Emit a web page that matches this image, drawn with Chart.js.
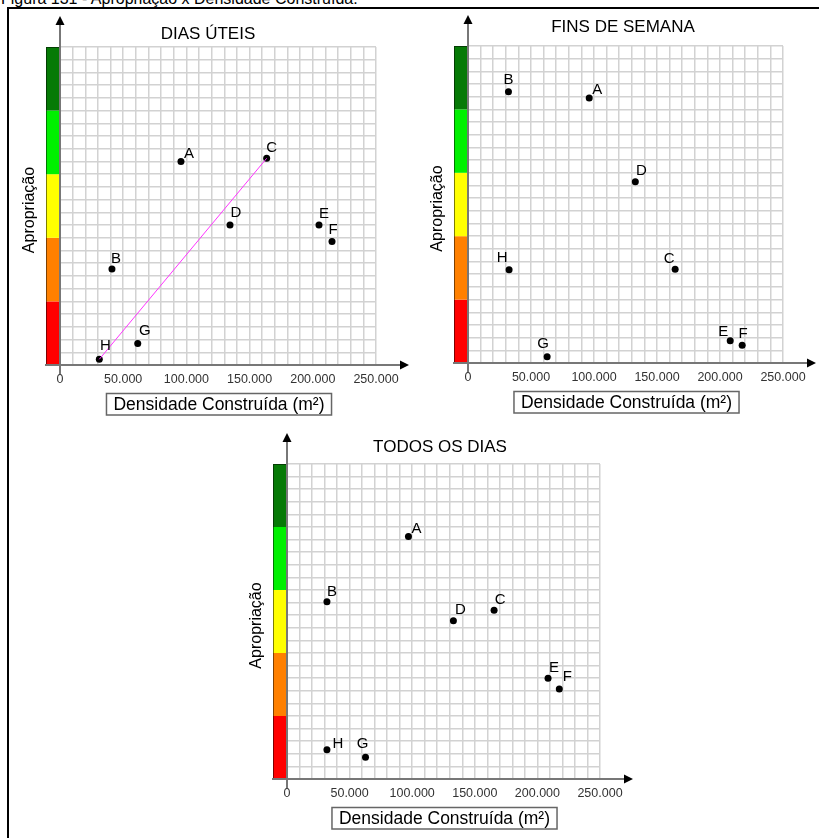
<!DOCTYPE html>
<html><head><meta charset="utf-8">
<script src="https://cdn.jsdelivr.net/npm/chart.js@4.4.1/dist/chart.umd.min.js"></script>
<style>
html,body{margin:0;padding:0;background:#fff;overflow:hidden;width:819px;height:838px;}
#wrap{position:relative;width:819px;height:838px;overflow:hidden;background:#fff;}
#caption{position:absolute;left:1px;top:-9px;font:16px/16px 'Liberation Sans',Arial,sans-serif;color:#000;white-space:nowrap;}
#frame{position:absolute;left:7px;top:7px;width:900px;height:900px;border-top:2px solid #000;border-left:2px solid #000;}
canvas{position:absolute;left:0;top:0;}
</style></head>
<body><div id="wrap">
<div id="caption">Figura 131 - Apropriação x Densidade Construída.</div>
<div id="frame"></div>
<canvas id="c1" width="819" height="838"></canvas>
<canvas id="c2" width="819" height="838"></canvas>
<canvas id="c3" width="819" height="838"></canvas>
</div>
<script>
// ---------- DATA ----------
const localities = ['A','B','C','D','E','F','G','H'];
const densityDiasUteis = [95700, 41100, 163500, 134500, 204900, 215200, 61500, 31100];
const appropDiasUteis  = [16.0, 7.55, 16.25, 11.0, 11.0, 9.7, 1.7, 0.45];
const densityFinsSemana = [96200, 32100, 164400, 132800, 208100, 217600, 62800, 32600];
const appropFinsSemana  = [20.9, 21.4, 7.4, 14.3, 1.75, 1.4, 0.5, 7.35];
const densityTodosDias = [97000, 31900, 165400, 132900, 208500, 217500, 62700, 31900];
const appropTodosDias  = [19.25, 14.06, 13.4, 12.55, 8.0, 7.15, 1.72, 2.33];
const trendLineDiasUteis = ['H','C'];
const xTickLabels = [0, 50000, 100000, 150000, 200000, 250000];
const appropBandEdges = [0, 5, 10, 15, 20, 25];
const chartTitles = ['DIAS ÚTEIS', 'FINS DE SEMANA', 'TODOS OS DIAS'];
const xAxisTitle = 'Densidade Construída (m²)';
const yAxisTitle = 'Apropriação';

// ---------- STYLE / LAYOUT ----------
const FONT = "'Liberation Sans', Arial, sans-serif";
const bandColors = ['#ff0000', '#ff8000', '#ffff00', '#00f000', '#067a06'];
const XSCALE_H = 30;
const layouts = [
  {area:[60,47,376,365], titleX:208, titleY:34,
   offsets:[[8,-8],[4,-10],[5,-10],[6,-12],[5,-11],[1,-12],[7,-13],[6,-13]]},
  {area:[468,46,783,363], titleX:623, titleY:27.5,
   offsets:[[8,-8],[0,-12],[-6,-10],[6,-11],[-7,-9],[1,-11],[-4,-13],[-7,-12]]},
  {area:[287,464,600,779], titleX:440, titleY:447,
   offsets:[[8,-8],[5,-10],[6,-10],[7,-11],[6,-10],[8,-12],[-3,-13],[11,-6]]}
];

function fmt(v){ return String(v).replace(/\B(?=(\d{3})+(?!\d))/g,'.'); }

const decor = {
  id:'decor',
  beforeDatasetsDraw(chart, args, o){
    const {ctx, chartArea:{left,top,right,bottom}, scales:{y}} = chart;
    ctx.save();
    for(let i=0;i<bandColors.length;i++){
      const y0 = y.getPixelForValue(appropBandEdges[i]);
      const y1 = y.getPixelForValue(appropBandEdges[i+1]);
      ctx.fillStyle = bandColors[i];
      ctx.fillRect(left-14, y1, 14, y0-y1);
    }
    ctx.strokeStyle = 'rgba(0,0,0,0.5)'; ctx.lineWidth = 1;
    ctx.strokeRect(left-14+0.5, top+0.5, 14, bottom-top);
    ctx.strokeStyle = '#777'; ctx.lineWidth = 2;
    ctx.beginPath(); ctx.moveTo(left-15, bottom); ctx.lineTo(right+26, bottom); ctx.stroke();
    ctx.beginPath(); ctx.moveTo(left, bottom+9); ctx.lineTo(left, top-24); ctx.stroke();
    ctx.fillStyle = '#000';
    ctx.beginPath(); ctx.moveTo(right+33, bottom); ctx.lineTo(right+24, bottom-4.5); ctx.lineTo(right+24, bottom+4.5); ctx.closePath(); ctx.fill();
    ctx.beginPath(); ctx.moveTo(left, top-31); ctx.lineTo(left-4.5, top-22); ctx.lineTo(left+4.5, top-22); ctx.closePath(); ctx.fill();
    ctx.restore();
  },
  afterDatasetsDraw(chart, args, o){
    const {ctx} = chart;
    const meta = chart.getDatasetMeta(o.pointDataset);
    ctx.save();
    ctx.fillStyle = '#000';
    ctx.font = '15px ' + FONT;
    ctx.textAlign = 'center'; ctx.textBaseline = 'middle';
    meta.data.forEach((pt, i) => {
      const off = o.offsets[i];
      ctx.fillText(localities[i], pt.x + off[0], pt.y + off[1]);
    });
    ctx.restore();
  },
  afterDraw(chart, args, o){
    const {ctx, chartArea:{left,top,right,bottom}} = chart;
    ctx.save();
    ctx.fillStyle = '#000';
    ctx.textAlign = 'center'; ctx.textBaseline = 'middle';
    ctx.font = '17px ' + FONT;
    ctx.fillText(o.title, o.titleX, o.titleY);
    // x axis title box
    ctx.font = '17.5px ' + FONT;
    const cx = (left+right)/2 + 1;
    const w = ctx.measureText(xAxisTitle).width + 14;
    const by = bottom + 28.5, bh = 21.5;
    ctx.fillStyle = '#fff';
    ctx.fillRect(cx - w/2, by, w, bh);
    ctx.strokeStyle = '#666'; ctx.lineWidth = 1.5;
    ctx.strokeRect(cx - w/2, by, w, bh);
    ctx.fillStyle = '#000';
    ctx.fillText(xAxisTitle, cx, by + bh/2 + 1);
    // y axis title
    ctx.font = '16px ' + FONT;
    ctx.translate(left - 30, (top+bottom)/2 + 4);
    ctx.rotate(-Math.PI/2);
    ctx.fillText(yAxisTitle, 0, 0);
    ctx.restore();
  }
};

function makeChart(id, xs, ys, lay, title, trend){
  const pts = xs.map((x,i)=>({x, y: ys[i]}));
  const datasets = [];
  if(trend){
    const line = trend.map(l => pts[localities.indexOf(l)]);
    datasets.push({data: line, showLine: true, borderColor: '#ff33ff', borderWidth: 1, pointRadius: 0, fill: false});
  }
  datasets.push({data: pts, pointRadius: 3.5, pointBackgroundColor: '#000', pointBorderColor: '#000', pointBorderWidth: 0});
  const a = lay.area;
  const gridOpts = {color: '#d2d2d2', lineWidth: 1.5, drawTicks: false};
  return new Chart(document.getElementById(id), {
    type: 'scatter',
    data: {datasets},
    options: {
      responsive: false, animation: false, events: [],
      layout: {padding: {left: a[0], top: a[1], right: 819 - a[2], bottom: 838 - a[3] - XSCALE_H}},
      plugins: {
        legend: {display: false}, tooltip: {enabled: false},
        decor: {title, titleX: lay.titleX, titleY: lay.titleY, offsets: lay.offsets, pointDataset: datasets.length - 1}
      },
      scales: {
        x: {type: 'linear', min: 0, max: 250000,
            afterFit: s => { s.height = XSCALE_H; },
            border: {display: false}, grid: gridOpts,
            ticks: {stepSize: 10000, autoSkip: false, maxRotation: 0, minRotation: 0, padding: 7,
                    color: '#333', font: {family: FONT, size: 12.5},
                    callback: v => xTickLabels.includes(v) ? fmt(v) : ''}},
        y: {type: 'linear', min: 0, max: 25,
            afterFit: s => { s.width = 0; },
            border: {display: false}, grid: gridOpts,
            ticks: {stepSize: 1, display: false}}
      }
    },
    plugins: [decor]
  });
}

makeChart('c1', densityDiasUteis, appropDiasUteis, layouts[0], chartTitles[0], trendLineDiasUteis);
makeChart('c2', densityFinsSemana, appropFinsSemana, layouts[1], chartTitles[1], null);
makeChart('c3', densityTodosDias, appropTodosDias, layouts[2], chartTitles[2], null);
</script>
</body></html>
